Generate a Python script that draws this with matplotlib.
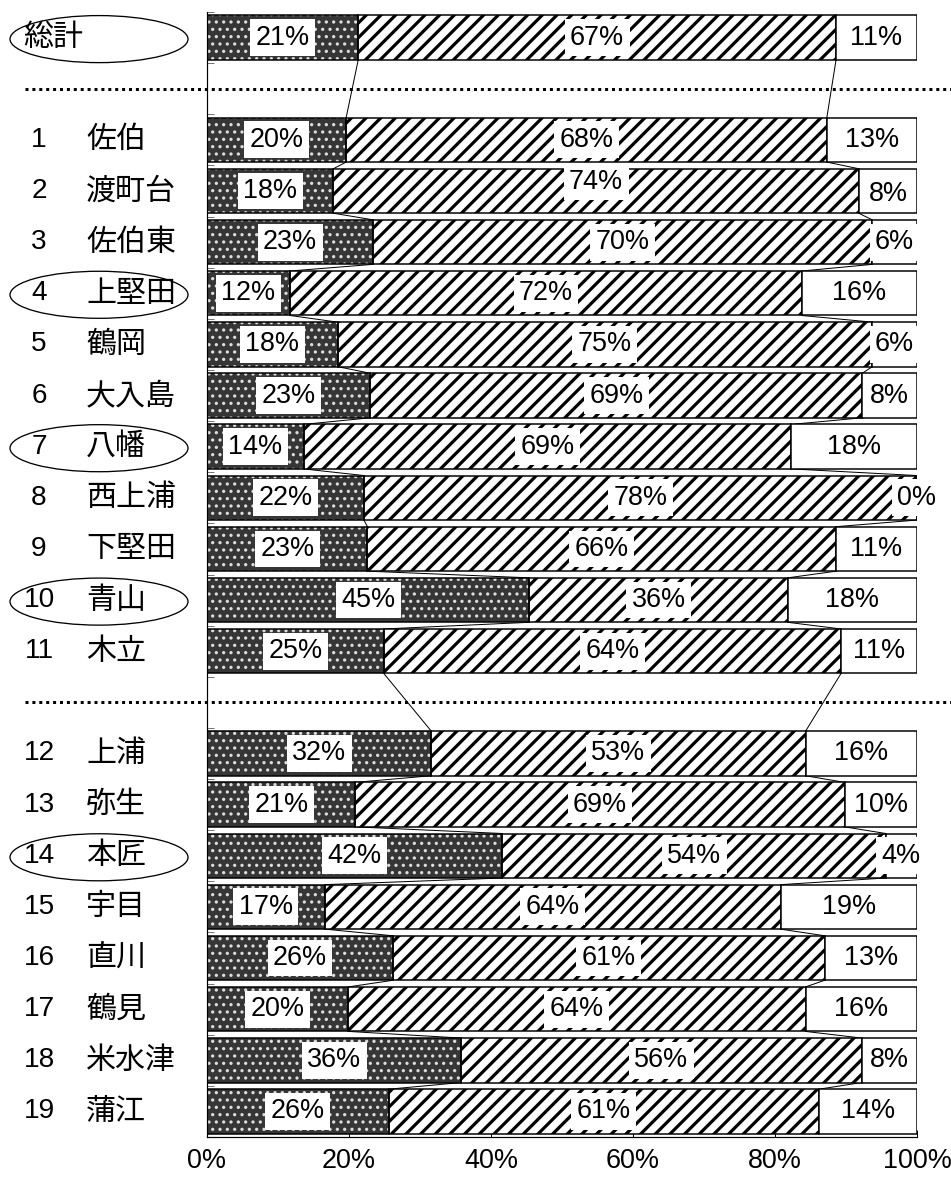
import numpy as np
import matplotlib
matplotlib.use("Agg")
import matplotlib.pyplot as plt
from matplotlib.patches import Ellipse
from matplotlib.lines import Line2D
from matplotlib.transforms import blended_transform_factory

DPI = 132
W, H = 951, 1182


def px(v: float) -> float:
    # pixels -> points at the chosen dpi
    return v * 72 / DPI


# rows in top-to-bottom order, split into groups by dotted separators
groups = [1, 11, 8]
numbers = ["", "1", "2", "3", "4", "5", "6", "7", "8", "9", "10", "11",
           "12", "13", "14", "15", "16", "17", "18", "19"]
names = ["総計", "佐伯", "渡町台", "佐伯東", "上堅田", "鶴岡", "大入島", "八幡",
         "西上浦", "下堅田", "青山", "木立", "上浦", "弥生", "本匠", "宇目",
         "直川", "鶴見", "米水津", "蒲江"]
circled = ["総計", "上堅田", "八幡", "青山", "本匠"]

dark = [21.3, 19.6, 17.8, 23.4, 11.7, 18.4, 23.0, 13.6, 22.1, 22.6, 45.4,
        24.9, 31.6, 20.9, 41.6, 16.6, 26.2, 19.9, 35.8, 25.6]
hatched = [67.3, 67.7, 74.0, 70.3, 72.1, 75.3, 69.3, 68.7, 77.9, 66.0, 36.4,
           64.4, 52.7, 68.9, 54.0, 64.2, 60.8, 64.4, 56.4, 60.6]
white = [11.4, 12.7, 8.2, 6.3, 16.2, 6.3, 7.7, 17.7, 0.0, 11.4, 18.2,
         10.7, 15.7, 10.2, 4.4, 19.2, 13.0, 15.7, 7.8, 13.8]

xticks = [0, 20, 40, 60, 80, 100]

# a few labels sit off-centre in the original (row index, segment) -> dy px
label_nudge = {(2, 1): -9, (2, 2): 3}

LATIN = ["Liberation Sans", "DejaVu Sans"]
CJK = ["Noto Sans CJK JP", "DejaVu Sans"]


def set_hatch_lw(bars, lw):
    for p in bars:
        if hasattr(p, "set_hatch_linewidth"):
            p.set_hatch_linewidth(lw)


# slot positions: an empty slot between groups
slots = []
s = 0
for n in groups:
    for _ in range(n):
        slots.append(s)
        s += 1
    s += 1
sep_slots = [slots[sum(groups[:k + 1]) - 1] + 1 for k in range(len(groups) - 1)]
nslots = slots[-1] + 1

plt.rcParams["hatch.linewidth"] = px(3.0)

fig = plt.figure(figsize=(W / DPI, H / DPI), dpi=DPI)
ax = fig.add_axes([207 / W, 45 / H, 710 / W, 1125 / H])

bh = 0.87
y = np.array(slots, dtype=float)
dark = np.array(dark)
hatched = np.array(hatched)
white = np.array(white)

b = ax.barh(y, dark, height=bh, color="#363636", edgecolor="#dddddd",
            hatch="...", linewidth=0, zorder=2)
set_hatch_lw(b, px(1.8))
ax.barh(y, dark, height=bh, fill=False, edgecolor="black",
        linewidth=px(1.5), zorder=3)
b = ax.barh(y, hatched, left=dark, height=bh, color="white",
            edgecolor="black", hatch="///", linewidth=px(1.5), zorder=2)
set_hatch_lw(b, px(3.2))
ax.barh(y, white, left=dark + hatched, height=bh, color="white",
        edgecolor="black", linewidth=px(1.5), zorder=2)

# series lines between consecutive bars
ends = [dark, dark + hatched, dark + hatched + white]
for c in ends:
    for i in range(len(y) - 1):
        ax.plot([c[i], c[i + 1]], [y[i] + bh / 2, y[i + 1] - bh / 2],
                color="black", lw=px(1.0), zorder=1)

# data labels
for i in range(len(y)):
    lefts = [0, dark[i], dark[i] + hatched[i]]
    for k, v in enumerate([dark[i], hatched[i], white[i]]):
        dy = label_nudge.get((i, k), 0)
        ax.annotate(f"{round(v)}%", (lefts[k] + v / 2, y[i]),
                    xytext=(0, -px(dy)), textcoords="offset points",
                    ha="center", va="center", fontsize=px(27),
                    family=LATIN, zorder=5,
                    bbox=dict(boxstyle="square,pad=0.2", fc="white",
                              ec="none"))

ax.set_xlim(0, 100)
ax.set_ylim(nslots - 0.5, -0.5)
ax.set_xticks(xticks)
ax.set_xticklabels([f"{t}%" for t in xticks], family=LATIN, fontsize=px(27))
ax.set_yticks(np.arange(-0.5, nslots, 1.0))
ax.set_yticklabels([])
ax.tick_params(axis="x", direction="in", length=px(7), width=px(1),
               pad=px(11))
ax.tick_params(axis="y", direction="in", length=px(7), width=px(1),
               color="#777777")
for side in ["top", "right"]:
    ax.spines[side].set_visible(False)
for side in ["left", "bottom"]:
    ax.spines[side].set_linewidth(px(1.2))

# category labels, ellipses and separators live in figure x / data y
tr = blended_transform_factory(fig.transFigure, ax.transData)
for i, name in enumerate(names):
    if numbers[i]:
        fig.text(39 / W, y[i], numbers[i], transform=tr, ha="center",
                 va="center", fontsize=px(28), family=LATIN)
        fig.text(86 / W, y[i], name, transform=tr, ha="left", va="center",
                 fontsize=px(30), family=CJK)
    else:
        fig.text(23 / W, y[i], name, transform=tr, ha="left", va="center",
                 fontsize=px(30), family=CJK)
    if name in circled:
        fig.add_artist(Ellipse((99 / W, y[i] + 0.03), 178 / W, 0.92,
                               transform=tr, fill=False, edgecolor="black",
                               linewidth=px(1.3)))

for ss in sep_slots:
    fig.add_artist(Line2D([25 / W, 1.0], [ss, ss], transform=tr,
                          color="black", lw=px(3), dash_capstyle="butt",
                          linestyle=(0, (1, 1.3))))

fig.savefig("out.png", dpi=DPI)
